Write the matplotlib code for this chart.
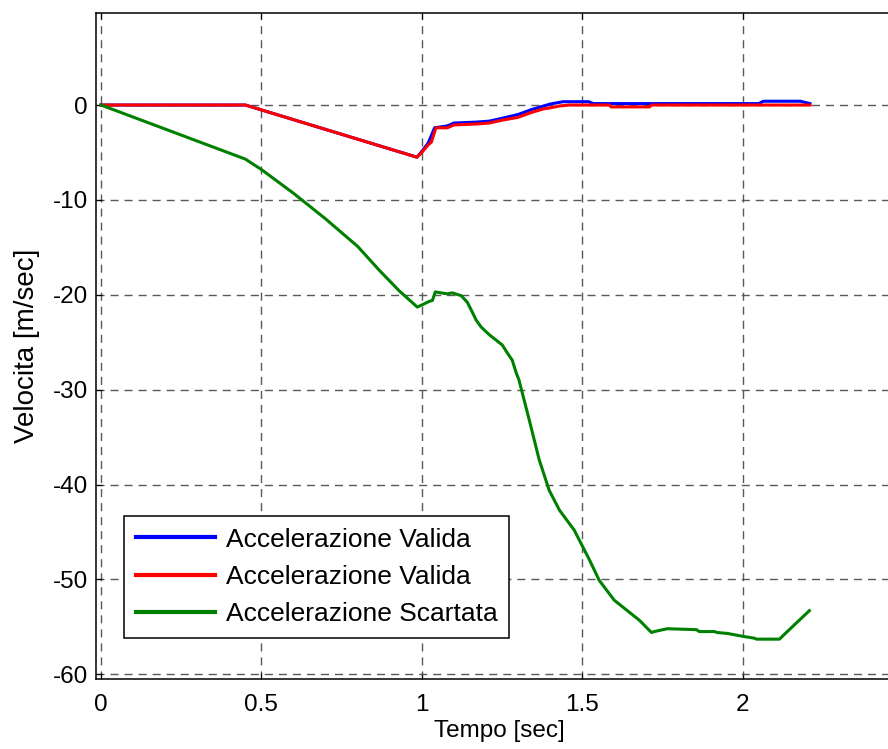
import numpy as np
import matplotlib
matplotlib.use("Agg")
import matplotlib.pyplot as plt

plt.rcParams['font.family'] = ['Liberation Sans', 'DejaVu Sans']
plt.rcParams['axes.unicode_minus'] = False

# velocity profiles (tempo [sec], velocita [m/sec])
t_blue = [0, 0.45, 0.985, 1.0, 1.02, 1.04, 1.08, 1.10, 1.17, 1.21, 1.25, 1.30,
          1.34, 1.38, 1.40, 1.44, 1.52, 1.535, 2.05, 2.065, 2.18, 2.21]
v_blue = [0, 0, -5.5, -4.9, -4.0, -2.4, -2.2, -1.9, -1.8, -1.7, -1.4, -1.0,
          -0.5, -0.1, 0.1, 0.35, 0.35, 0.15, 0.15, 0.4, 0.4, 0.15]

t_red = [0, 0.45, 0.985, 1.0, 1.02, 1.03, 1.042, 1.045, 1.08, 1.10, 1.17, 1.21,
         1.25, 1.30, 1.34, 1.38, 1.40, 1.43, 1.46, 1.585, 1.59, 1.71, 1.715, 2.21]
v_red = [0, 0, -5.5, -5.0, -4.2, -3.9, -2.6, -2.4, -2.4, -2.1, -2.0, -1.9,
         -1.6, -1.3, -0.8, -0.4, -0.3, -0.1, 0, 0, -0.2, -0.2, 0, 0]

t_green = [0, 0.15, 0.30, 0.45, 0.50, 0.60, 0.70, 0.80, 0.867, 0.93, 0.986,
           1.023, 1.033, 1.042, 1.06, 1.079, 1.095, 1.123, 1.142, 1.154, 1.170,
           1.185, 1.210, 1.251, 1.266, 1.282, 1.294, 1.303, 1.335, 1.366, 1.397,
           1.429, 1.475, 1.522, 1.553, 1.600, 1.678, 1.716, 1.725, 1.765, 1.856,
           1.865, 1.912, 1.921, 1.953, 2.0, 2.037, 2.043, 2.115, 2.130, 2.208]
v_green = [0, -1.9, -3.8, -5.7, -6.8, -9.3, -12.0, -14.9, -17.4, -19.6, -21.3,
           -20.7, -20.6, -19.7, -19.8, -19.9, -19.8, -20.1, -20.8, -21.6, -22.7,
           -23.4, -24.2, -25.3, -26.1, -26.9, -28.2, -29.0, -33.2, -37.4, -40.6,
           -42.7, -44.8, -47.9, -50.1, -52.2, -54.3, -55.6, -55.5, -55.2, -55.3,
           -55.5, -55.5, -55.6, -55.7, -56.0, -56.2, -56.3, -56.3, -55.8, -53.3]

labels = ['Accelerazione Valida', 'Accelerazione Valida', 'Accelerazione Scartata']
xticks = [0, 0.5, 1, 1.5, 2]
xtick_labels = ['0', '0.5', '1', '1.5', '2']
yticks = [-60, -50, -40, -30, -20, -10, 0]

fig = plt.figure(figsize=(8.88, 7.49), dpi=100)
ax = fig.add_axes([96 / 888, 70 / 749, 807 / 888, 666 / 749])

ax.plot(t_blue, v_blue, color=(0, 0, 1), lw=2.2, label=labels[0])
ax.plot(t_red, v_red, color=(1, 0, 0), lw=2.2, label=labels[1])
ax.plot(t_green, v_green, color=(0, 0.5, 0), lw=2.2, label=labels[2])

ax.set_xlim(-0.0156, 2.5)
ax.set_ylim(-60.5, 9.7)
ax.set_xticks(xticks)
ax.set_xticklabels(xtick_labels)
ax.set_yticks(yticks)

ax.grid(True, linestyle=(0, (5.8, 4.3)), color='0.35', lw=1)
ax.tick_params(direction='in', length=4, top=True, right=True, labelsize=17.5)
ax.tick_params(axis='x', pad=11)
ax.tick_params(axis='y', pad=6)
for s in ax.spines.values():
    s.set_linewidth(1.1)

ax.set_xlabel('Tempo [sec]', fontsize=17.5, labelpad=3)
ax.set_ylabel('Velocita [m/sec]', fontsize=20, labelpad=9)

leg = ax.legend(loc='lower left', bbox_to_anchor=(0.0347, 0.0616), fontsize=19,
                fancybox=False, framealpha=1, edgecolor='black',
                handlelength=3.0, borderpad=0.45, labelspacing=0.5,
                handletextpad=0.4, borderaxespad=0)
leg.get_frame().set_linewidth(1.1)
for h in leg.get_lines():
    h.set_linewidth(3)

fig.savefig('out.png', dpi=100)
